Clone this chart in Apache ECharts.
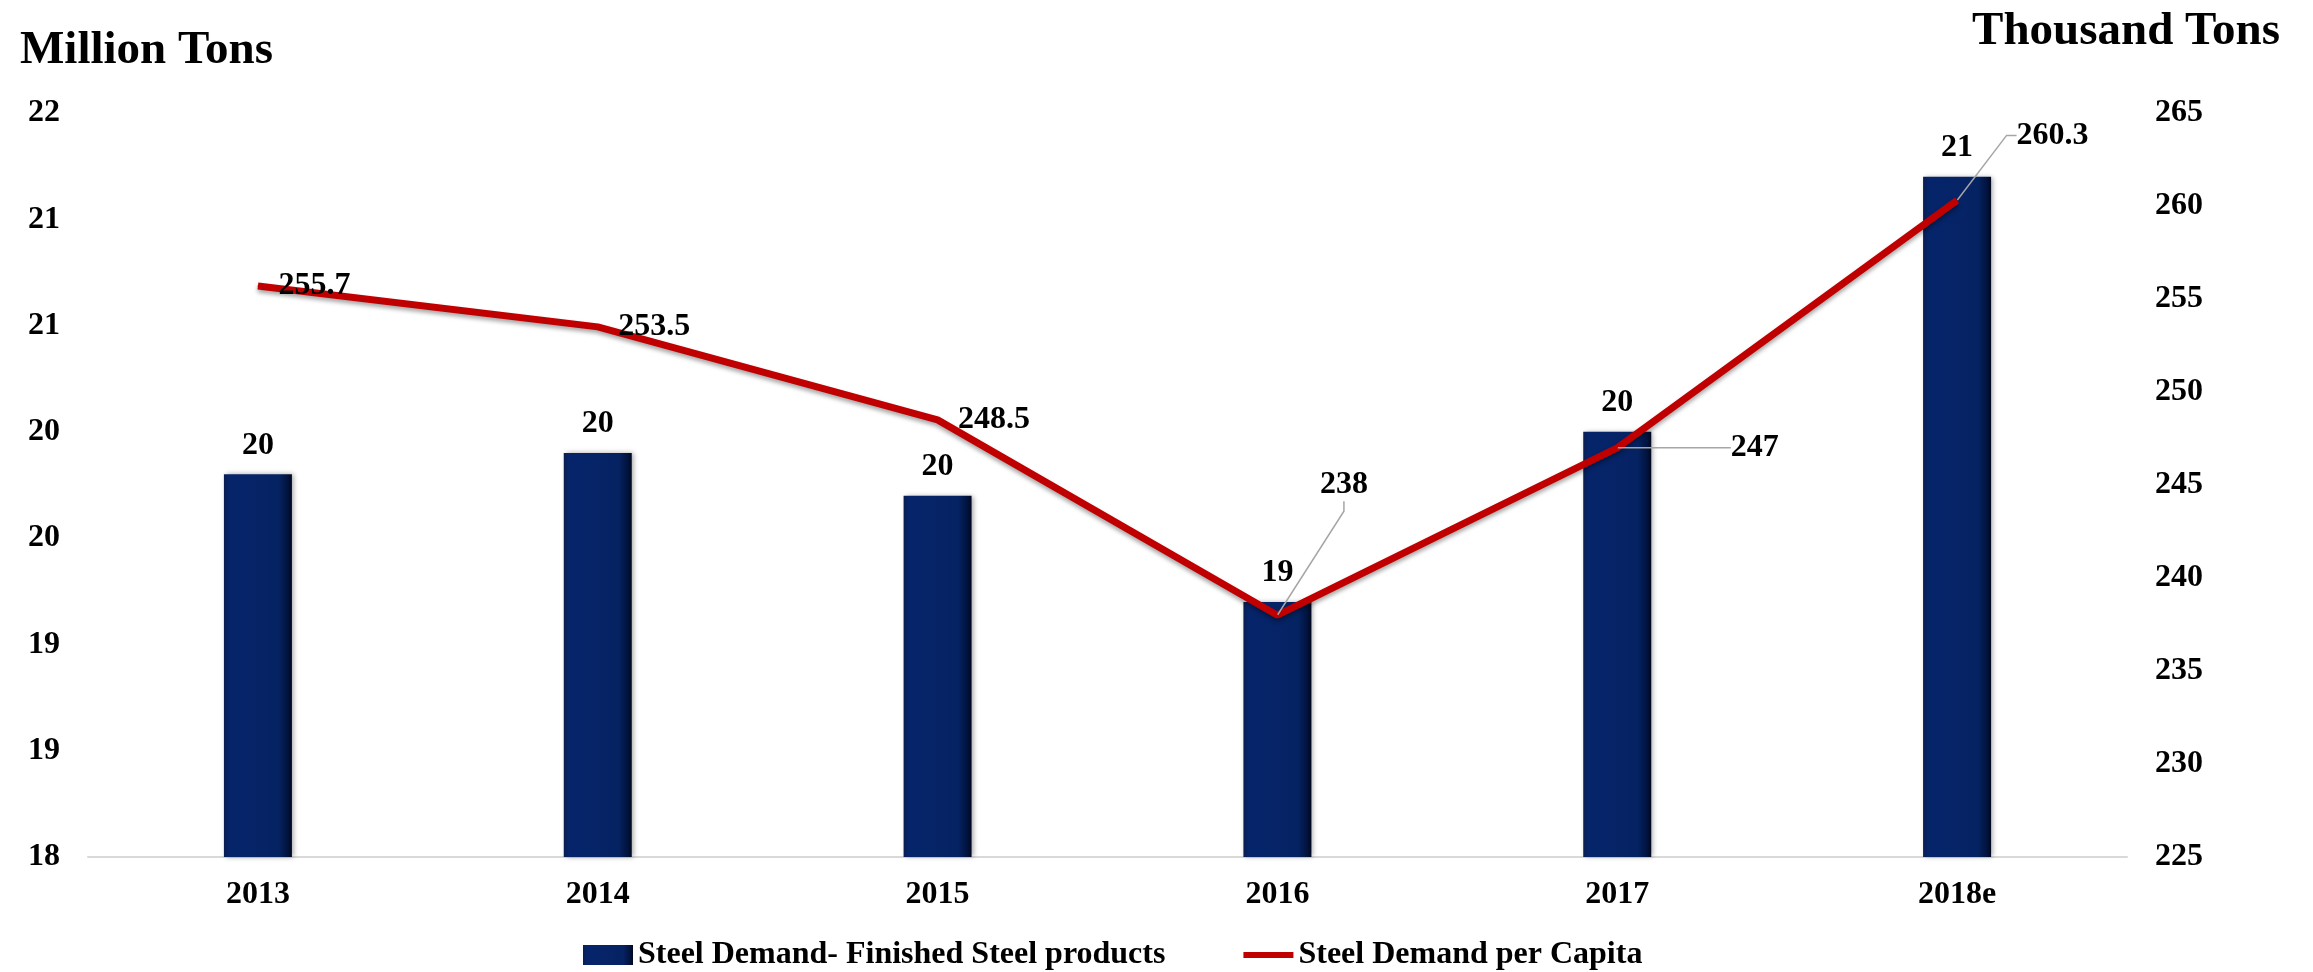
<!DOCTYPE html>
<html>
<head>
<meta charset="utf-8">
<script src="https://cdn.jsdelivr.net/npm/echarts@6/dist/echarts.min.js"></script>
<style>
html,body{margin:0;padding:0;background:#fff;}
#chart{width:2313px;height:972px;}
</style>
</head>
<body>
<div id="chart"></div>
<script>
const categories = ['2013', '2014', '2015', '2016', '2017', '2018e'];
const demandMillionTons = [19.8, 19.9, 19.7, 19.2, 20.0, 21.2];
const demandPerCapita = [255.7, 253.5, 248.5, 238, 247, 260.3];
const barSeriesName = 'Steel Demand- Finished Steel products';
const lineSeriesName = 'Steel Demand per Capita';
const leftAxisTitle = 'Million Tons';
const rightAxisTitle = 'Thousand Tons';

const FONT = '"Liberation Serif", "Times New Roman", serif';
const chart = echarts.init(document.getElementById('chart'));

// label displacement for the per-capita labels (dx, dy, leader line)
const lineLabelMoves = [
  [0, 0, false], [0, 0, false], [0, 0, false],
  [22, -130, true], [93, 0, true], [39, -65, true]
];

const barColor = {
  type: 'linear', x: 0, y: 0, x2: 1, y2: 0,
  colorStops: [
    {offset: 0, color: '#0a1d4f'},
    {offset: 0.07, color: '#06246a'},
    {offset: 0.8, color: '#052363'},
    {offset: 0.93, color: '#021440'},
    {offset: 1, color: '#000820'}
  ]
};

// thick line legend icon (degenerate sub-paths keep the bounding box)
const lineIcon = 'path://M0,7 L50,7 L50,13 L0,13 Z M0,0 L0.01,0 L0,0.01 Z M50,20 L49.99,20 L50,19.99 Z';

const option = {
  backgroundColor: '#ffffff',
  animation: false,
  title: [
    {text: leftAxisTitle, left: 15, top: 22,
     textStyle: {fontFamily: FONT, fontWeight: 'bold', fontSize: 47, color: '#000'}},
    {text: rightAxisTitle, right: 28, top: 3,
     textStyle: {fontFamily: FONT, fontWeight: 'bold', fontSize: 47, color: '#000'}}
  ],
  grid: {left: 88, right: 186, top: 113, bottom: 115},
  legend: {
    left: 578, top: 934,
    itemWidth: 50, itemHeight: 20, itemGap: 78,
    textStyle: {fontFamily: FONT, fontWeight: 'bold', fontSize: 32, color: '#000'},
    data: [
      {name: barSeriesName, icon: 'rect'},
      {name: lineSeriesName, icon: lineIcon}
    ]
  },
  xAxis: {
    type: 'category',
    data: categories,
    axisLine: {lineStyle: {color: '#d9d9d9', width: 2}},
    axisTick: {show: false},
    axisLabel: {fontFamily: FONT, fontWeight: 'bold', fontSize: 32, color: '#000', margin: 22}
  },
  yAxis: [
    {
      type: 'value', min: 18, max: 21.5, interval: 0.5,
      splitLine: {show: false}, axisLine: {show: false}, axisTick: {show: false},
      axisLabel: {fontFamily: FONT, fontWeight: 'bold', fontSize: 32, color: '#000', margin: 28,
        formatter: v => String(Math.round(v))}
    },
    {
      type: 'value', min: 225, max: 265, interval: 5, position: 'right',
      splitLine: {show: false}, axisLine: {show: false}, axisTick: {show: false},
      axisLabel: {fontFamily: FONT, fontWeight: 'bold', fontSize: 32, color: '#000', margin: 28}
    }
  ],
  series: [
    {
      name: barSeriesName,
      type: 'bar',
      yAxisIndex: 0,
      barWidth: 68,
      data: demandMillionTons,
      itemStyle: {
        color: barColor,
        shadowColor: 'rgba(0,0,0,0.35)', shadowBlur: 5, shadowOffsetX: 2
      },
      label: {
        show: true, position: 'top', distance: 13,
        fontFamily: FONT, fontWeight: 'bold', fontSize: 32, color: '#000',
        formatter: p => String(Math.round(p.value))
      },
      z: 2
    },
    {
      name: lineSeriesName,
      type: 'line',
      yAxisIndex: 1,
      data: demandPerCapita.map((v, i) => ({
        value: v,
        labelLine: {show: lineLabelMoves[i][2]}
      })),
      symbol: 'circle',
      symbolSize: 1,
      showSymbol: true,
      itemStyle: {color: '#c00000'},
      lineStyle: {
        color: '#c00000', width: 7,
        shadowColor: 'rgba(0,0,0,0.35)', shadowBlur: 4, shadowOffsetY: 3
      },
      label: {
        show: true, position: 'right', distance: 20,
        fontFamily: FONT, fontWeight: 'bold', fontSize: 32, color: '#000'
      },
      labelLine: {
        show: true, smooth: false, length2: 10,
        lineStyle: {color: '#a6a6a6', width: 1.5}
      },
      labelLayout: function (params) {
        const m = lineLabelMoves[params.dataIndex];
        return {dx: m[0], dy: m[1]};
      },
      z: 5
    }
  ]
};
chart.setOption(option);
</script>
</body>
</html>
